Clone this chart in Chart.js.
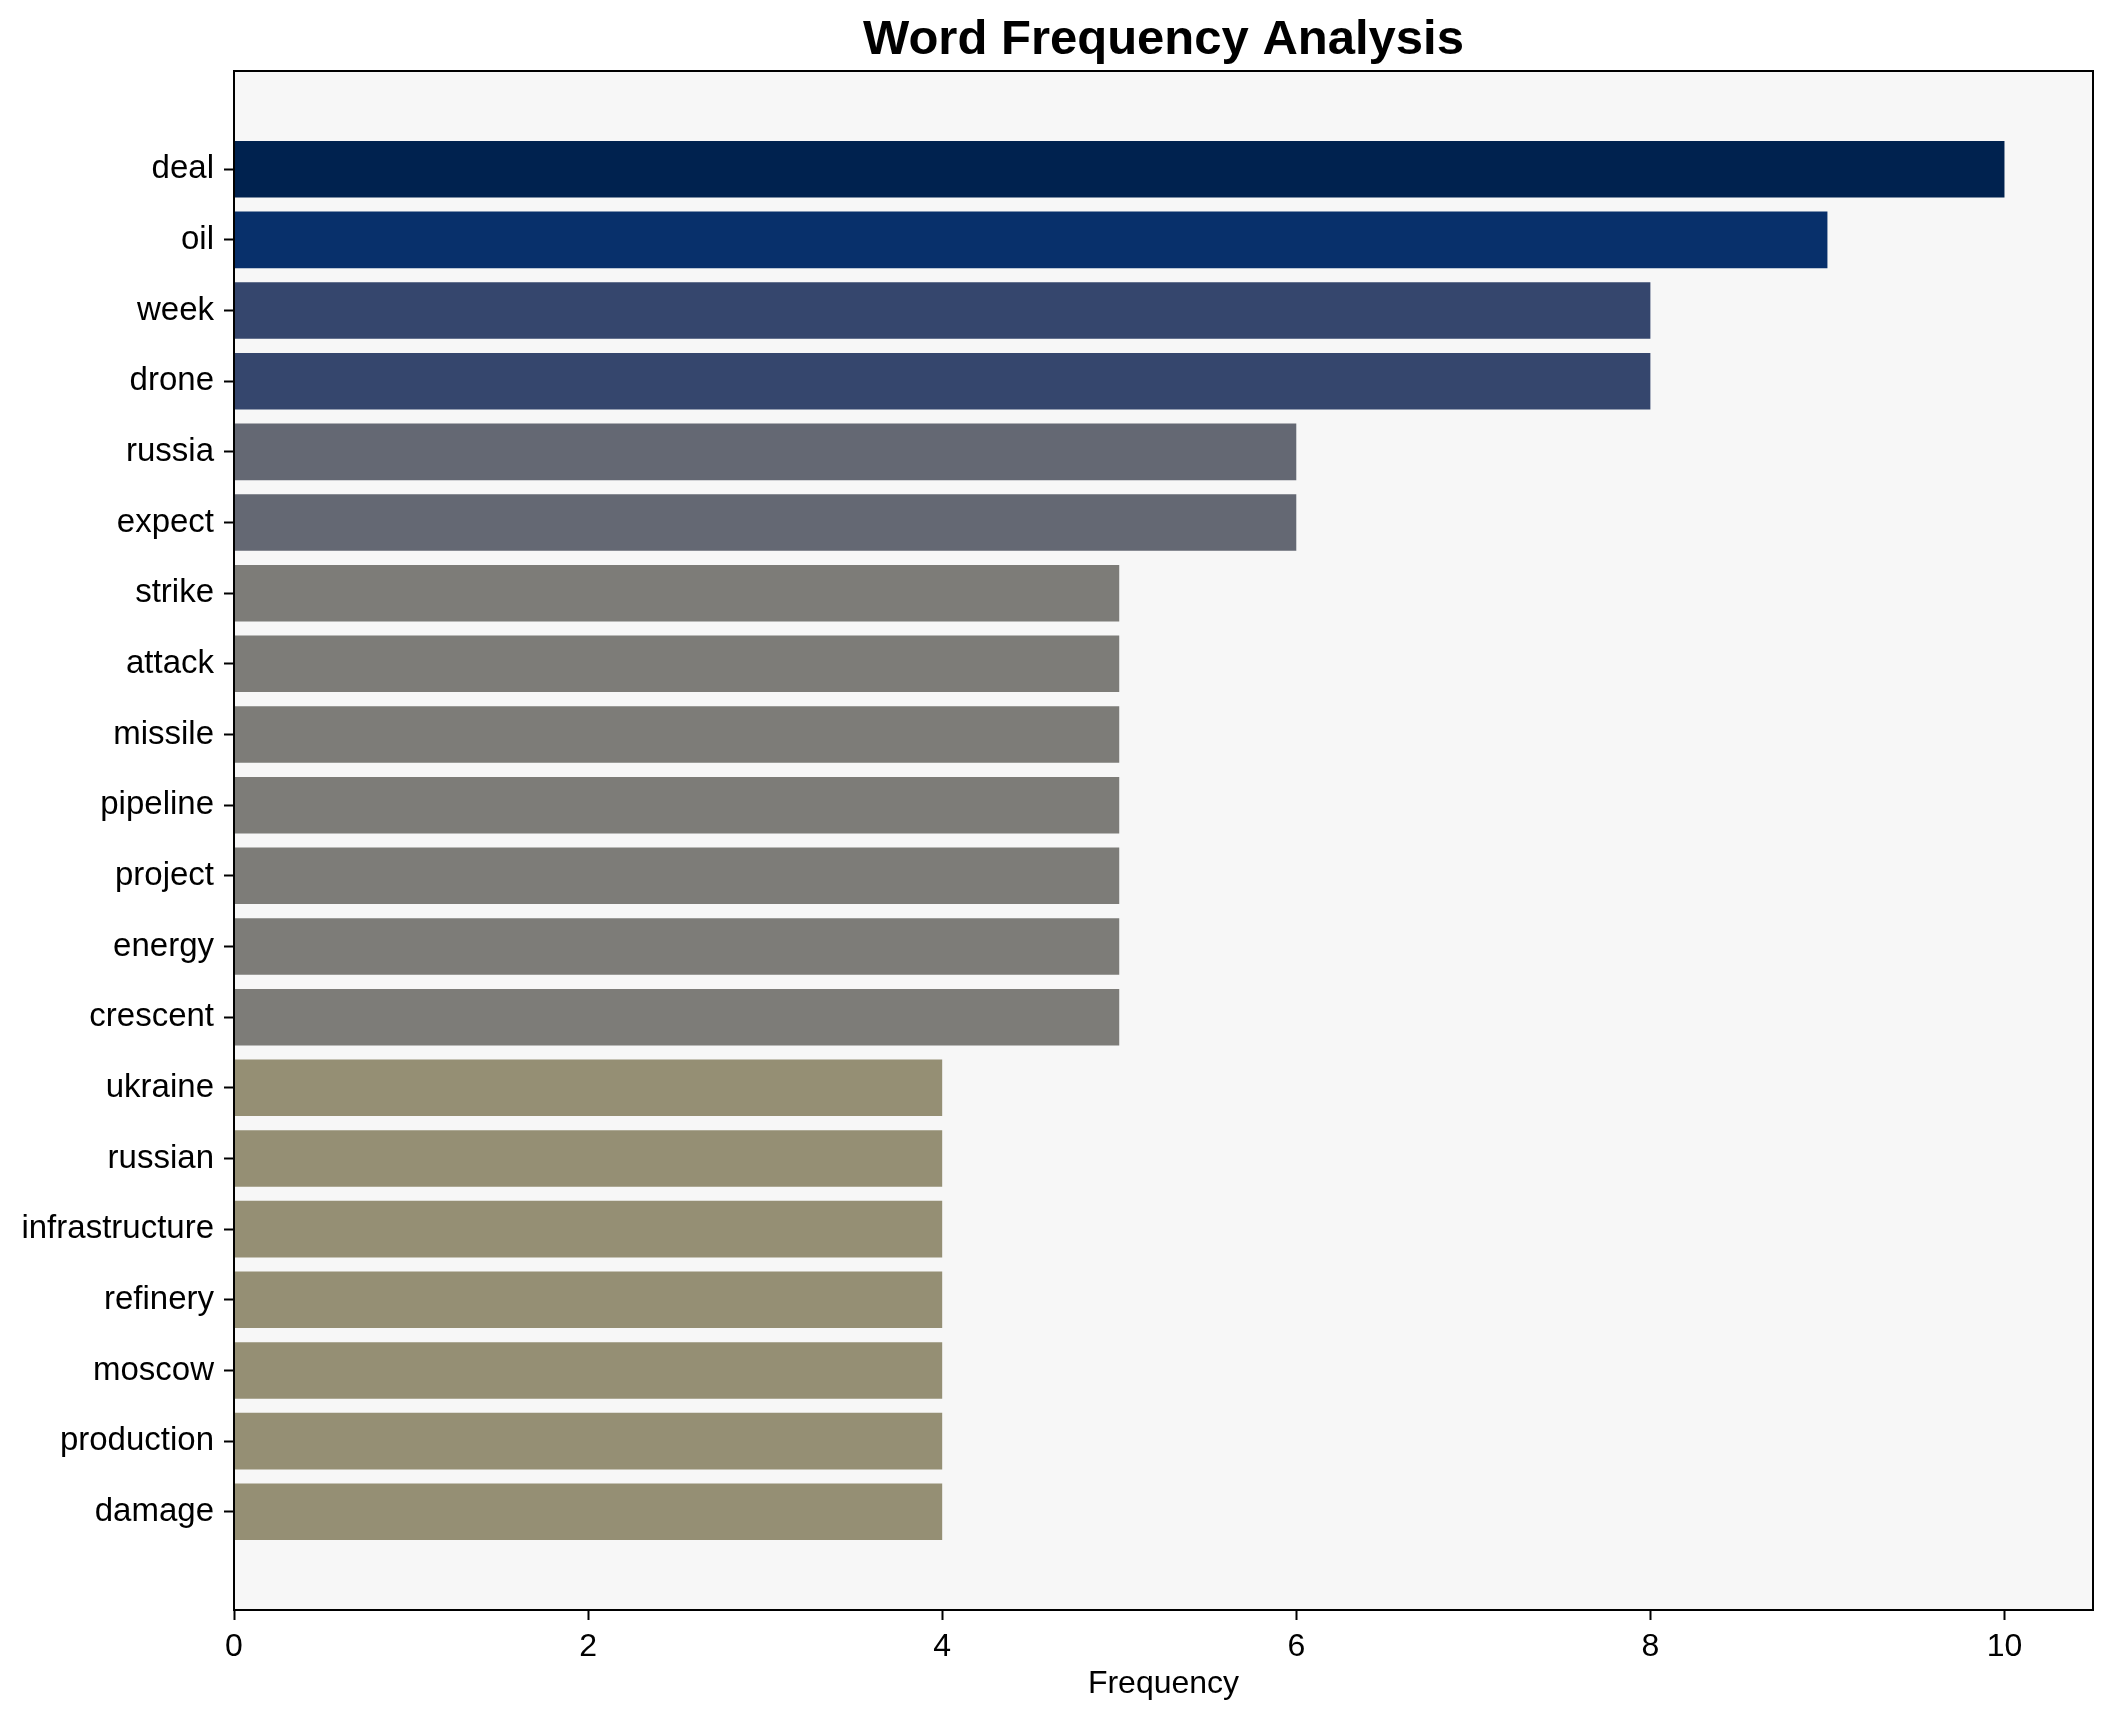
<!DOCTYPE html>
<html>
<head>
<meta charset="utf-8">
<script src="https://cdn.jsdelivr.net/npm/chart.js@4.4.1/dist/chart.umd.min.js"></script>
<style>
  html, body { margin: 0; padding: 0; background: #ffffff; }
  #wrap { width: 2113px; height: 1722px; }
</style>
</head>
<body>
<div id="wrap"><canvas id="chart"></canvas></div>
<script>
// datos del grafico
const words = ["deal", "oil", "week", "drone", "russia", "expect", "strike", "attack", "missile", "pipeline",
    "project", "energy", "crescent", "ukraine", "russian", "infrastructure", "refinery", "moscow", "production", "damage"];
const freqs = [10, 9, 8, 8, 6, 6, 5, 5, 5, 5, 5, 5, 5, 4, 4, 4, 4, 4, 4, 4];
const barColors = ["#00224f", "#08306b", "#35466d", "#35466d", "#646873", "#646873",
    "#7d7c78", "#7d7c78", "#7d7c78", "#7d7c78", "#7d7c78", "#7d7c78", "#7d7c78",
    "#958f74", "#958f74", "#958f74", "#958f74", "#958f74", "#958f74", "#958f74"];
const xTicks = [0, 2, 4, 6, 8, 10];

const FONT = "'Liberation Sans', Arial, sans-serif";

// fondo gris, marco del area de datos y titulo
const framePlugin = {
    id: 'frame',
    beforeDraw(chart) {
        const a = chart.chartArea;
        const ctx = chart.ctx;
        ctx.save();
        ctx.fillStyle = '#f7f7f7';
        ctx.fillRect(a.left, a.top, a.right - a.left, a.bottom - a.top);
        ctx.restore();
    },
    afterDraw(chart) {
        const a = chart.chartArea;
        const ctx = chart.ctx;
        ctx.save();
        ctx.strokeStyle = '#000';
        ctx.lineWidth = 2;
        ctx.strokeRect(a.left, a.top, a.right - a.left, a.bottom - a.top);
        // titulo centrado sobre los ejes
        ctx.fillStyle = '#000';
        ctx.font = "bold 49px " + FONT;
        ctx.textAlign = 'center';
        ctx.textBaseline = 'middle';
        ctx.fillText('Word Frequency Analysis', (a.left + a.right) / 2, 40);
        ctx.restore();
    }
};

const ctx = document.getElementById('chart').getContext('2d');
new Chart(ctx, {
    type: 'bar',
    data: {
        datasets: [{
            data: words.map((w, i) => ({ x: freqs[i], y: i })),
            backgroundColor: barColors,
            borderWidth: 0,
            categoryPercentage: 1.0,
            barPercentage: 0.8
        }]
    },
    options: {
        indexAxis: 'y',
        responsive: true,
        maintainAspectRatio: false,
        animation: false,
        layout: { padding: { top: 71, right: 20, left: 0, bottom: 0 } },
        plugins: {
            legend: { display: false },
            tooltip: { enabled: false },
            title: { display: false }
        },
        scales: {
            x: {
                type: 'linear',
                min: 0,
                max: 10.5,
                afterBuildTicks: (s) => { s.ticks = xTicks.map(v => ({ value: v })); },
                afterFit: (s) => { s.height = 112; },
                grid: { display: true, drawOnChartArea: false, drawTicks: true, tickLength: 10, tickWidth: 2, tickColor: '#000' },
                border: { display: true, color: '#000', width: 2 },
                ticks: { color: '#000', padding: 8, font: { family: FONT, size: 32 } },
                title: { display: true, text: 'Frequency', color: '#000', padding: { top: 0, bottom: 19 }, font: { family: FONT, size: 32 } }
            },
            y: {
                type: 'linear',
                reverse: true,
                offset: false,
                min: -1.39,
                max: 20.39,
                afterBuildTicks: (s) => { s.ticks = words.map((w, i) => ({ value: i })); },
                afterFit: (s) => { s.width = 234; },
                grid: { display: true, offset: false, drawOnChartArea: false, drawTicks: true, tickLength: 10, tickWidth: 2, tickColor: '#000' },
                border: { display: true, color: '#000', width: 2 },
                ticks: {
                    color: '#000',
                    padding: 10,
                    font: { family: FONT, size: 33 },
                    callback: (v) => words[v] !== undefined ? words[v] : ''
                }
            }
        }
    },
    plugins: [framePlugin]
});
</script>
</body>
</html>
